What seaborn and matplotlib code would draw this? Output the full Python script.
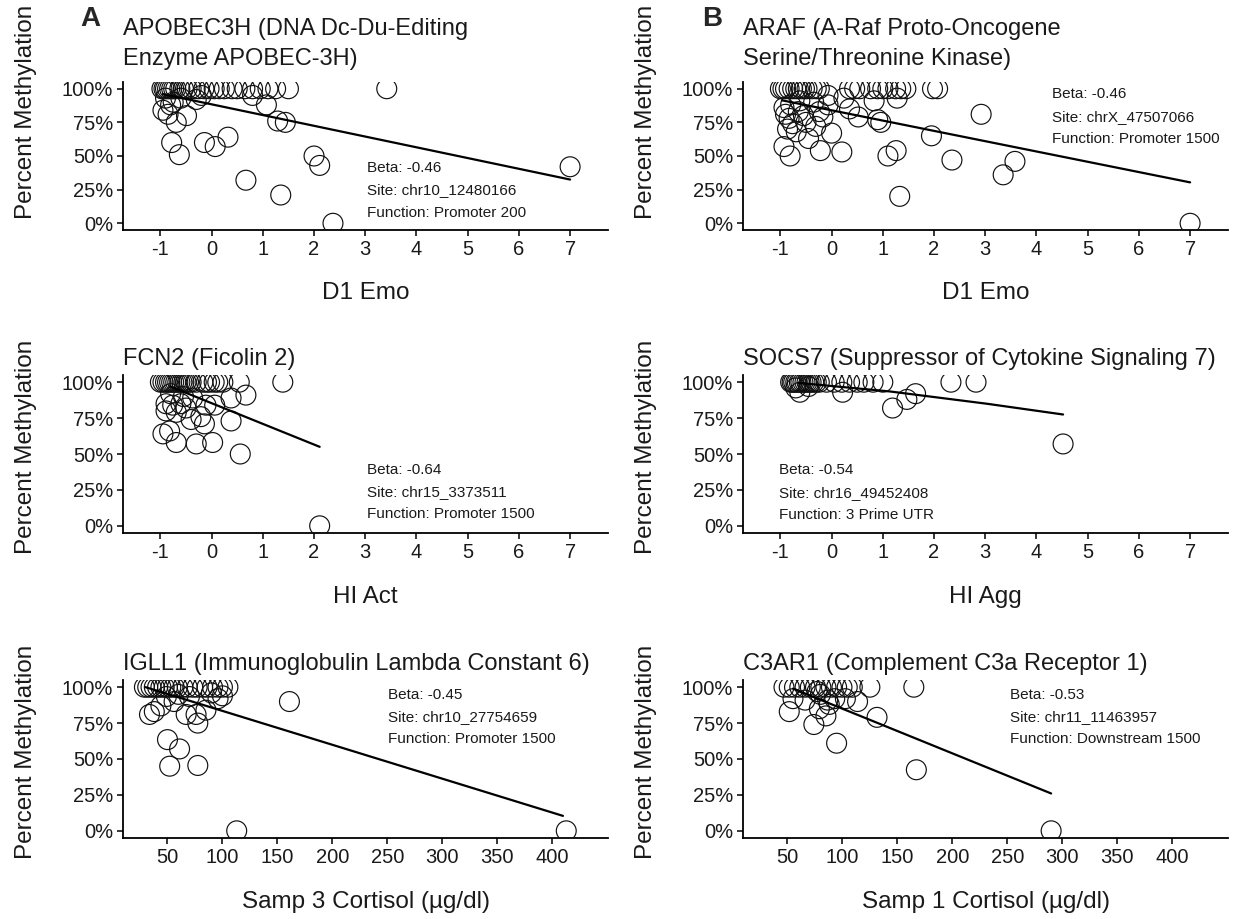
import numpy as np
import pandas as pd
import matplotlib
matplotlib.use("Agg")
import matplotlib.pyplot as plt
import seaborn as sns

# ---------------- data ----------------
# Panel A: APOBEC3H vs D1 Emo
a_x = [-0.97, -0.93, -0.9, -0.86, -0.82, -0.78, -0.74, -0.7, -0.62, -0.55, -0.48, -0.4, -0.32,
       -0.25, -0.15, -0.05, 0.05, 0.15, 0.25, 0.4, 0.5, 0.65, 0.8, 0.95, 1.1, 1.25, 1.5, 3.42,
       -0.95, -0.85, -0.69, -0.49, -0.78, -0.63, -0.14, 0.07, 0.32, 0.67, 1.35, 1.29, 1.44, 1.07,
       0.8, 2.0, 2.11, 2.37, 7.0, -0.9, -0.75, -0.3, -0.2, -0.8, -0.6]
a_y = [1.0] * 28 + [0.84, 0.81, 0.75, 0.80, 0.60, 0.51, 0.60, 0.57, 0.64, 0.32, 0.21, 0.76, 0.75,
                    0.88, 0.95, 0.50, 0.43, 0.0, 0.42, 0.93, 0.90, 0.92, 0.95, 0.88, 0.93]
a_fit_x = [-0.95, 7.0]
a_fit_y = [0.96, 0.325]

# Panel B: ARAF vs D1 Emo
b_x = [-1.0, -0.95, -0.9, -0.83, -0.76, -0.7, -0.65, -0.59, -0.53, -0.48, -0.38, -0.3, -0.24,
       0.35, 0.45, 0.55, 0.76, 0.9, 1.0, 1.1, 1.25, 1.35, 1.45, 1.97, 2.07,
       -0.07, 0.24, 0.83, 1.28,
       -0.93, -0.9, -0.83, -0.86, -0.76, -0.69, -0.62, -0.55, -0.45, -0.24, -0.17, -0.07, 0.0,
       -0.93, -0.81, -0.22, 0.2, 0.35, 0.52, 0.9, 0.96, 1.1, 1.26, 1.33, 1.95, 2.35, 2.92, 3.35,
       3.58, 7.0, -0.31, -0.8, -0.5, -0.35, -0.65]
b_y = [1.0] * 25 + [0.95, 0.93, 0.91, 0.93] + [
       0.86, 0.81, 0.78, 0.70, 0.74, 0.68, 0.91, 0.80, 0.63, 0.83, 0.79, 0.88, 0.67,
       0.57, 0.50, 0.54, 0.53, 0.85, 0.79, 0.77, 0.75, 0.50, 0.54, 0.20, 0.65, 0.47, 0.81, 0.36,
       0.46, 0.0, 0.72, 0.88, 0.75, 0.90, 0.83]
b_fit_x = [-0.97, 7.0]
b_fit_y = [0.914, 0.304]

# Panel C: FCN2 vs HI Act
c_x = [-1.0, -0.95, -0.9, -0.86, -0.82, -0.78, -0.74, -0.7, -0.66, -0.62, -0.58, -0.54, -0.5,
       -0.45, -0.4, -0.3, -0.17, -0.1, -0.04, 0.05, 0.12, 0.22, 0.54, 1.39,
       0.67, 0.38, 0.06, -0.11, -0.89, -0.76, -0.6, -0.89, -0.69, -0.4, -0.21, -0.14, 0.38,
       -0.95, -0.82, -0.69, -0.3, 0.02, 0.56, 2.11, -0.37, -0.55, -0.8, -0.5]
c_y = [1.0] * 24 + [0.91, 0.89, 0.84, 0.84, 0.85, 0.84, 0.85, 0.80, 0.79, 0.74, 0.76, 0.71, 0.73,
                    0.64, 0.66, 0.58, 0.57, 0.58, 0.50, 0.0, 0.89, 0.90, 0.92, 0.82]
c_fit_x = [-0.8, 2.11]
c_fit_y = [0.969, 0.55]

# Panel D: SOCS7 vs HI Agg
d_x = [-0.8, -0.77, -0.74, -0.7, -0.67, -0.63, -0.6, -0.56, -0.52, -0.48, -0.44, -0.4, -0.35,
       -0.3, -0.24, -0.1, 0.05, 0.2, 0.35, 0.5, 0.63, 0.81, 1.0, 2.33, 2.82,
       -0.62, -0.7, 0.215, 1.19, 1.47, 1.64, 4.52, -0.45]
d_y = [1.0] * 25 + [0.93, 0.96, 0.93, 0.82, 0.88, 0.92, 0.57, 0.97]
d_fit_x = [-0.65, 1.15, 3.03, 4.52]
d_fit_y = [0.995, 0.935, 0.85, 0.775]

# Panel E: IGLL1 vs Samp 3 Cortisol
e_x = [29, 32, 35, 38, 41, 44, 47, 50, 53, 56, 59, 64, 68, 73, 77, 82, 86, 91, 96, 100, 105,
       161, 33.6, 38, 44, 56, 67, 76, 77.6, 85, 96, 50, 61, 52, 77.6, 113, 70, 49, 413, 60, 90, 100]
e_y = [1.0] * 21 + [0.90, 0.81, 0.83, 0.87, 0.90, 0.81, 0.81, 0.75, 0.84, 0.92, 0.635, 0.57, 0.45,
                    0.455, 0.0, 0.935, 0.935, 0.0, 0.95, 0.96, 0.94]
e_fit_x = [30, 410]
e_fit_y = [1.0, 0.104]

# Panel F: C3AR1 vs Samp 1 Cortisol
f_x = [46.8, 51.6, 56.4, 61.2, 66, 70.8, 75.5, 80.4, 85, 90, 94.7, 99.6, 104.4, 109, 125, 165,
       51.6, 55, 66, 74, 79, 85, 86.6, 93, 102.7, 113.8, 94.7, 131.5, 167.3, 290, 80, 88, 77]
f_y = [1.0] * 16 + [0.83, 0.92, 0.91, 0.74, 0.85, 0.80, 0.91, 0.92, 0.92, 0.90, 0.61, 0.79, 0.425,
                    0.0, 0.95, 0.88, 0.97]
f_fit_x = [55, 290]
f_fit_y = [0.99, 0.26]

titles = ["APOBEC3H (DNA Dc-Du-Editing\nEnzyme APOBEC-3H)",
          "ARAF (A-Raf Proto-Oncogene\nSerine/Threonine Kinase)",
          "FCN2 (Ficolin 2)",
          "SOCS7 (Suppressor of Cytokine Signaling 7)",
          "IGLL1 (Immunoglobulin Lambda Constant 6)",
          "C3AR1 (Complement C3a Receptor 1)"]
xlabels = ["D1 Emo", "D1 Emo", "HI Act", "HI Agg",
           "Samp 3 Cortisol (\u00b5g/dl)", "Samp 1 Cortisol (\u00b5g/dl)"]
betas = ["-0.46", "-0.46", "-0.64", "-0.54", "-0.45", "-0.53"]
sites = ["chr10_12480166", "chrX_47507066", "chr15_3373511", "chr16_49452408",
         "chr10_27754659", "chr11_11463957"]
functions = ["Promoter 200", "Promoter 1500", "Promoter 1500", "3 Prime UTR",
             "Promoter 1500", "Downstream 1500"]
score_ticks = [-1, 0, 1, 2, 3, 4, 5, 6, 7]
cort_ticks = [50, 100, 150, 200, 250, 300, 350, 400]
y_ticks = [0, 0.25, 0.5, 0.75, 1.0]
y_ticklabels = ["0%", "25%", "50%", "75%", "100%"]

# ---------------- style ----------------
sns.set_theme(style="ticks")
plt.rcParams["font.family"] = ["Liberation Sans", "DejaVu Sans"]

W, H = 1233, 919
fig = plt.figure(figsize=(W / 100, H / 100), dpi=100)

col_left = [123, 743]
ax_w = 485
rows = [(82, 230), (375, 533), (680, 838)]

panels = [
    (a_x, a_y, a_fit_x, a_fit_y),
    (b_x, b_y, b_fit_x, b_fit_y),
    (c_x, c_y, c_fit_x, c_fit_y),
    (d_x, d_y, d_fit_x, d_fit_y),
    (e_x, e_y, e_fit_x, e_fit_y),
    (f_x, f_y, f_fit_x, f_fit_y),
]

# annotation anchor (axes fraction): x, y of first line, line step
ann_pos = [(0.503, 0.419, 0.152), (0.637, 0.916, 0.151),
           (0.503, 0.399, 0.140), (0.074, 0.399, 0.143),
           (0.546, 0.905, 0.139), (0.55, 0.905, 0.139)]
title_off = [12, 12, 5, 5, 5, 5]
ylab_y = [0.80, 0.80, 0.544, 0.544, 0.544, 0.544]
xlab_y = [-0.426, -0.426, -0.405, -0.405, -0.405, -0.405]

for i, (px, py, fx, fy) in enumerate(panels):
    r, c = divmod(i, 2)
    top, bot = rows[r]
    left = col_left[c]
    ax = fig.add_axes([left / W, (H - bot) / H, ax_w / W, (bot - top) / H])
    df = pd.DataFrame({"x": px, "y": py})
    sns.scatterplot(data=df, x="x", y="y", ax=ax, marker="o", s=205,
                    facecolor="none", edgecolor="#111111", linewidth=0.85, zorder=3)
    fit = pd.DataFrame({"x": fx, "y": fy})
    sns.lineplot(data=fit, x="x", y="y", ax=ax, color="black", linewidth=1.6,
                 zorder=4, estimator=None, sort=False)

    if r < 2:
        ax.set_xlim(-1.73, 7.74)
        ax.set_xticks(score_ticks)
        ax.set_xticklabels([str(t) for t in score_ticks])
    else:
        ax.set_xlim(9.5, 451)
        ax.set_xticks(cort_ticks)
        ax.set_xticklabels([str(t) for t in cort_ticks])
    ax.set_ylim(-0.05, 1.05)
    ax.set_yticks(y_ticks)
    ax.set_yticklabels(y_ticklabels)

    sns.despine(ax=ax)
    for s in ["left", "bottom"]:
        ax.spines[s].set_linewidth(1.3)
        ax.spines[s].set_color("black")
    ax.tick_params(axis="both", which="major", labelsize=14.5, length=4, width=1.1,
                   color="black", labelcolor="#1a1a1a", pad=3, direction="out")

    ax.set_xlabel(xlabels[i], fontsize=17.5, color="#1a1a1a")
    ax.xaxis.label.set_va("center")
    ax.xaxis.set_label_coords(0.5, xlab_y[i])
    ax.set_ylabel("Percent Methylation", fontsize=17.5, color="#1a1a1a")
    ax.yaxis.label.set_va("center")
    ax.yaxis.set_label_coords(-0.199, ylab_y[i])

    ax.text(0.0, 1.0 + title_off[i] / (bot - top), titles[i], transform=ax.transAxes,
            ha="left", va="bottom", fontsize=17, color="#1a1a1a", linespacing=1.45)

    axx, axy, step = ann_pos[i]
    lines = ["Beta: " + betas[i], "Site: " + sites[i], "Function: " + functions[i]]
    for k, t in enumerate(lines):
        ax.text(axx, axy - k * step, t, transform=ax.transAxes, ha="left", va="center",
                fontsize=11, color="#1a1a1a")

fig.text(90 / W, 1 - 19 / H, "A", fontsize=20, fontweight="bold", ha="center", va="center")
fig.text(712 / W, 1 - 19 / H, "B", fontsize=20, fontweight="bold", ha="center", va="center")

fig.savefig("out.png", dpi=100, facecolor="white")
